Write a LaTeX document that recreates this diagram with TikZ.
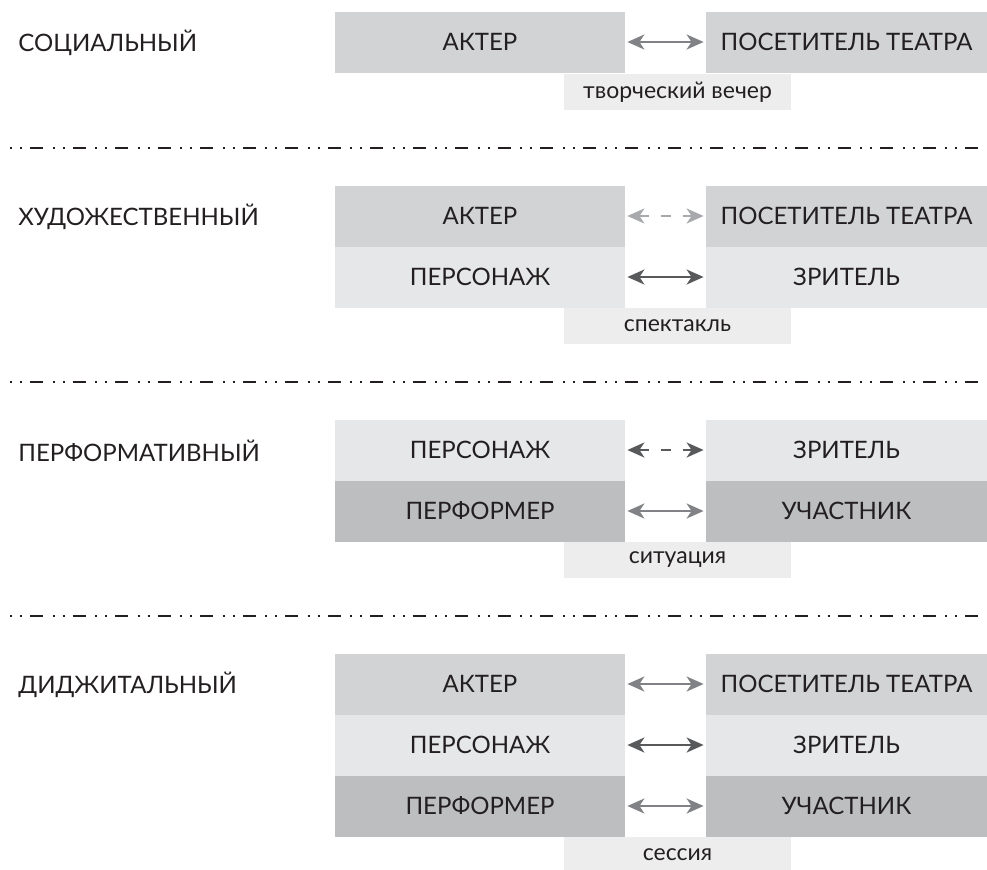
\documentclass[tikz,border=0pt]{standalone}
\usepackage{fontspec}
\setmainfont{Lato}
\usetikzlibrary{arrows.meta}
\definecolor{ink}{HTML}{231F20}
\definecolor{greyA}{HTML}{D1D3D4}
\definecolor{greyB}{HTML}{E6E7E8}
\definecolor{greyC}{HTML}{BCBEC0}
\definecolor{greyL}{HTML}{EDEDEE}
\definecolor{arrdark}{HTML}{58595B}
\definecolor{arrmid}{HTML}{808285}
\definecolor{arrlight}{HTML}{A7A9AC}
\tikzset{
  cell/.style={minimum height=30.5pt, inner sep=0pt, text=ink, font=\fontsize{12}{14}\selectfont},
  lcell/.style={cell, minimum width=145pt},
  rcell/.style={cell, minimum width=140.5pt},
  caption/.style={fill=greyL, minimum width=113.5pt, minimum height=18pt, inner sep=0pt, text=ink, font=\fontsize{11.5}{13}\selectfont},
  title/.style={anchor=west, inner sep=0pt, text=ink, font=\fontsize{12}{14}\selectfont},
  link/.style={{Stealth[length=8.5pt,width=7.5pt,inset=2.5pt]}-{Stealth[length=8.5pt,width=7.5pt,inset=2.5pt]}, line width=1.2pt, shorten <=1pt, shorten >=1pt},
  dlink/.style={link, dash pattern=on 5pt off 6pt},
  sep/.style={line width=1.1pt, ink, dash pattern=on 1.2pt off 3.8pt on 1.2pt off 3.8pt on 6.5pt off 4.75pt}
}
\begin{document}
\begin{tikzpicture}[x=0.5pt,y=-0.5pt]
\useasboundingbox (0,0) rectangle (987,869);
% социальный
\node[title] (soc) at (18,43) {СОЦИАЛЬНЫЙ};
\node[lcell,fill=greyA] (soc-l) at (480,42) {АКТЕР};
\node[rcell,fill=greyA] (soc-r) at (846.5,42) {ПОСЕТИТЕЛЬ ТЕАТРА};
\node[caption] (soc-cap) at (677.5,92) {творческий вечер};
\draw[link,arrmid] (soc-l.east) -- (soc-r.west);
% художественный
\node[title] (hud) at (18,217) {ХУДОЖЕСТВЕННЫЙ};
\node[lcell,fill=greyA] (hud-l1) at (480,216) {АКТЕР};
\node[rcell,fill=greyA] (hud-r1) at (846.5,216) {ПОСЕТИТЕЛЬ ТЕАТРА};
\node[lcell,fill=greyB] (hud-l2) at (480,277) {ПЕРСОНАЖ};
\node[rcell,fill=greyB] (hud-r2) at (846.5,277) {ЗРИТЕЛЬ};
\node[caption] (hud-cap) at (677.5,326) {спектакль};
\draw[dlink,arrlight] (hud-l1.east) -- (hud-r1.west);
\draw[link,arrdark] (hud-l2.east) -- (hud-r2.west);
% перформативный
\node[title] (perf) at (18,451) {ПЕРФОРМАТИВНЫЙ};
\node[lcell,fill=greyB] (perf-l1) at (480,450) {ПЕРСОНАЖ};
\node[rcell,fill=greyB] (perf-r1) at (846.5,450) {ЗРИТЕЛЬ};
\node[lcell,fill=greyC] (perf-l2) at (480,511) {ПЕРФОРМЕР};
\node[rcell,fill=greyC] (perf-r2) at (846.5,511) {УЧАСТНИК};
\node[caption] (perf-cap) at (677.5,560) {ситуация};
\draw[dlink,arrdark] (perf-l1.east) -- (perf-r1.west);
\draw[link,arrmid] (perf-l2.east) -- (perf-r2.west);
% диджитальный
\node[title] (dig) at (18,685) {ДИДЖИТАЛЬНЫЙ};
\node[lcell,fill=greyA] (dig-l1) at (480,684) {АКТЕР};
\node[rcell,fill=greyA] (dig-r1) at (846.5,684) {ПОСЕТИТЕЛЬ ТЕАТРА};
\node[lcell,fill=greyB] (dig-l2) at (480,745) {ПЕРСОНАЖ};
\node[rcell,fill=greyB] (dig-r2) at (846.5,745) {ЗРИТЕЛЬ};
\node[lcell,fill=greyC] (dig-l3) at (480,806) {ПЕРФОРМЕР};
\node[rcell,fill=greyC] (dig-r3) at (846.5,806) {УЧАСТНИК};
\node[caption] (dig-cap) at (677.5,855) {сессия};
\draw[link,arrmid] (dig-l1.east) -- (dig-r1.west);
\draw[link,arrdark] (dig-l2.east) -- (dig-r2.west);
\draw[link,arrmid] (dig-l3.east) -- (dig-r3.west);
% разделители
\foreach \y in {148,382,616}
  \draw[sep] (10,\y) -- (982,\y);
\end{tikzpicture}
\end{document}
